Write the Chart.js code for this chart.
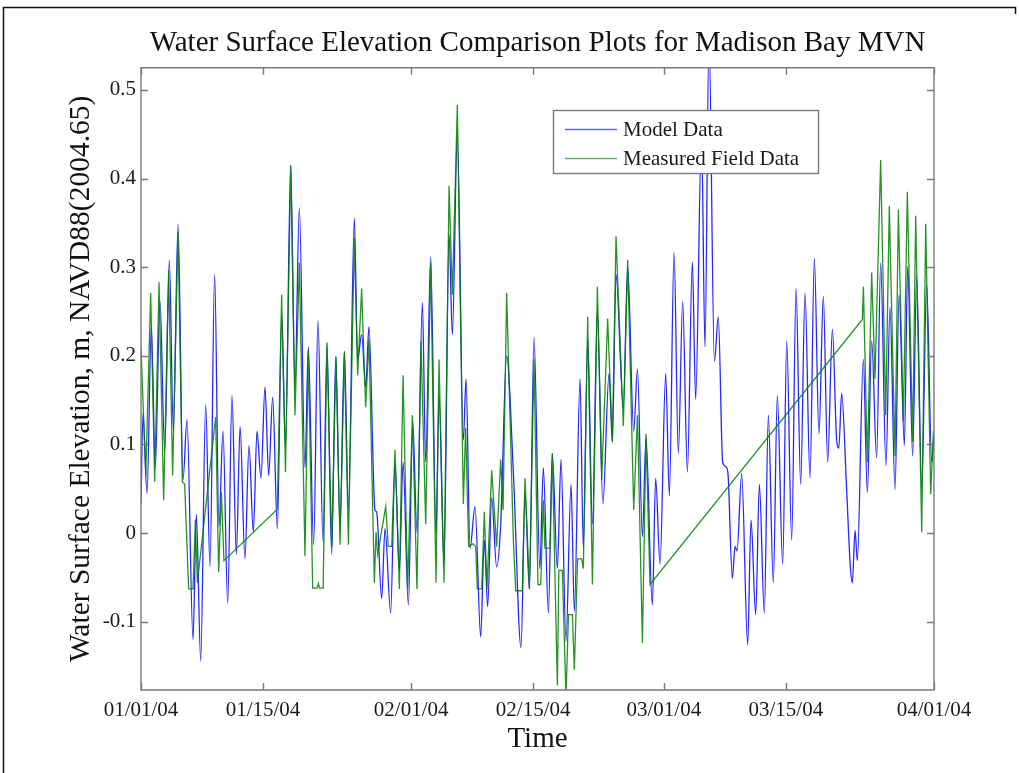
<!DOCTYPE html>
<html>
<head>
<meta charset="utf-8">
<title>Water Surface Elevation Comparison Plots for Madison Bay MVN</title>
<script src="https://cdn.jsdelivr.net/npm/chart.js@4/dist/chart.umd.min.js"></script>
<style>
  html, body { margin: 0; padding: 0; background: #fff; }
  #wrap { position: relative; width: 1019px; height: 773px; }
  canvas { display: block; }
</style>
</head>
<body>
<div id="wrap"><canvas id="chart" width="1019" height="773"></canvas></div>
<script>
// Time axis: days since 01/01/04
const tickDays = [0, 14, 31, 45, 60, 74, 91];
const tickLabels = ['01/01/04', '01/15/04', '02/01/04', '02/15/04', '03/01/04', '03/15/04', '04/01/04'];
const levelTicks = [-0.1, 0, 0.1, 0.2, 0.3, 0.4, 0.5];

// Model Data (day, water surface elevation in m)
const modelDays = [
  0.0, 0.23, 0.69, 1.19, 1.64, 2.18, 2.72, 3.25, 3.71, 4.25, 4.82, 5.28, 5.97, 6.35, 6.85, 7.42, 7.92, 8.45, 8.95, 9.41,
  9.95, 10.44, 10.94, 11.37, 11.93, 12.39, 12.89, 13.31, 13.77, 14.23, 14.65, 15.11, 15.65, 16.14, 16.58, 17.18, 17.67, 18.17, 18.82, 19.2,
  19.81, 20.31, 20.89, 21.34, 21.88, 22.35, 22.84, 23.34, 23.8, 24.48, 24.86, 25.32, 25.78, 26.16, 26.85, 27.04, 27.62, 28.0, 28.65, 29.15,
  29.65, 30.07, 30.68, 31.18, 31.67, 32.29, 32.67, 33.24, 33.85, 34.2, 34.77, 35.35, 35.73, 36.3, 36.99, 37.3, 37.76, 38.33, 38.98, 39.4,
  39.78, 40.24, 40.81, 41.27, 41.96, 42.73, 43.61, 44.07, 44.57, 45.1, 45.77, 46.17, 46.75, 47.2, 47.78, 48.2, 48.77, 49.35, 49.73, 50.38,
  50.76, 51.26, 51.8, 52.37, 53.0, 53.71, 54.09, 54.51, 55.35, 55.85, 56.54, 56.97, 57.54, 57.95, 58.68, 59.06, 59.56, 60.21, 60.63, 61.17,
  61.66, 62.16, 62.7, 63.27, 63.65, 64.32, 64.72, 65.18, 65.8, 66.25, 66.75, 67.1, 67.35, 67.86, 68.17, 68.4, 68.93, 69.62, 70.0, 70.54,
  70.96, 71.53, 71.99, 72.56, 73.02, 73.64, 74.1, 74.67, 75.17, 75.7, 76.2, 76.77, 77.27, 77.8, 78.3, 78.8, 79.34, 79.83, 80.08, 80.4,
  80.95, 81.38, 81.63, 81.94, 82.2, 82.89, 83.35, 83.85, 84.42, 84.88, 85.49, 85.95, 86.53, 86.99, 87.6, 87.98, 88.55, 89.01, 89.59, 90.16,
  90.74, 91.0
];
const modelLevels = [
  0.033, 0.135, 0.045, 0.233, 0.074, 0.262, 0.092, 0.308, 0.117, 0.349, 0.06, 0.128, -0.12, 0.021, -0.144, 0.145, -0.038, 0.292, 0.008, 0.115,
  -0.079, 0.155, -0.024, 0.12, -0.029, 0.099, 0.001, 0.115, 0.062, 0.165, 0.065, 0.153, 0.005, 0.245, 0.1, 0.415, 0.165, 0.367, 0.074, 0.21,
  -0.013, 0.24, -0.01, 0.212, -0.024, 0.199, 0.005, 0.205, 0.028, 0.355, 0.196, 0.224, 0.165, 0.233, 0.026, 0.024, -0.074, 0.005, -0.09, 0.08,
  -0.042, 0.08, -0.081, 0.126, 0.001, 0.26, 0.08, 0.312, 0.0, 0.155, -0.035, 0.337, 0.224, 0.45, 0.105, 0.174, -0.017, 0.03, -0.117, -0.008,
  -0.083, 0.04, -0.038, 0.008, 0.2, 0.069, -0.129, 0.046, -0.063, 0.221, -0.04, 0.074, -0.09, 0.09, -0.04, 0.083, -0.122, 0.055, -0.088, 0.174,
  -0.017, 0.219, 0.01, 0.251, 0.033, 0.18, 0.103, 0.292, 0.142, 0.301, 0.115, 0.185, -0.004, 0.108, -0.081, 0.062, -0.035, 0.18, 0.042, 0.317,
  0.09, 0.261, 0.069, 0.306, 0.151, 0.45, 0.21, 0.56, 0.194, 0.244, 0.08, 0.075, 0.068, -0.051, -0.015, -0.02, 0.067, -0.126, 0.015, -0.092,
  0.055, -0.09, 0.133, -0.056, 0.155, -0.035, 0.217, -0.008, 0.276, 0.055, 0.271, 0.062, 0.31, 0.112, 0.267, 0.08, 0.23, 0.105, 0.096, 0.158,
  0.055, -0.035, -0.056, 0.003, -0.031, 0.196, 0.046, 0.217, 0.085, 0.305, 0.076, 0.255, 0.049, 0.269, 0.099, 0.301, 0.087, 0.29, 0.051, 0.28,
  0.08, 0.112
];

// Measured Field Data (day, water surface elevation in m); gaps are bridged by straight lines
const fieldDays = [
  0.0, 0.55, 1.11, 1.57, 2.07, 2.6, 3.17, 3.63, 4.25, 4.74, 5.01, 5.47, 5.97, 6.24, 6.47, 8.57, 8.91, 9.22, 9.52, 15.64,
  16.14, 16.58, 17.18, 17.67, 18.17, 18.82, 19.2, 19.7, 20.2, 20.35, 20.5, 20.9, 21.34, 21.88, 22.38, 22.84, 23.34, 23.8, 24.48, 24.86,
  25.32, 25.78, 26.16, 26.78, 26.97, 27.16, 28.08, 28.38, 28.77, 29.15, 29.65, 30.07, 30.6, 31.14, 31.67, 32.13, 32.67, 33.24, 33.85, 34.2,
  34.77, 35.35, 35.73, 36.3, 36.99, 37.25, 37.6, 38.1, 38.4, 38.6, 39.1, 39.4, 39.7, 40.24, 40.81, 41.27, 41.55, 41.96, 42.73, 43.0,
  43.76, 44.07, 44.57, 45.1, 45.55, 45.87, 46.17, 46.35, 46.94, 47.2, 47.78, 47.95, 48.35, 48.77, 49.05, 49.5, 49.73, 50.1, 50.57, 50.76,
  51.26, 51.8, 52.37, 52.87, 53.55, 54.09, 54.51, 55.35, 55.85, 56.54, 56.97, 57.54, 57.95, 58.41, 82.78, 82.9, 83.35, 83.85, 84.23, 84.88,
  85.46, 85.87, 86.53, 86.91, 87.48, 87.94, 88.55, 88.9, 89.59, 90.05, 90.62, 90.93
];
const fieldLevels = [
  0.21, 0.065, 0.271, 0.058, 0.283, 0.037, 0.296, 0.065, 0.34, 0.058, 0.055, -0.063, -0.063, 0.015, -0.056, 0.131, -0.044, 0.046, -0.031, 0.027,
  0.269, 0.069, 0.415, 0.133, 0.305, -0.026, 0.205, -0.062, -0.062, -0.057, -0.062, -0.062, 0.215, -0.015, 0.199, -0.013, 0.205, -0.013, 0.333, 0.178,
  0.276, 0.142, 0.219, -0.056, 0.001, -0.024, 0.03, -0.015, -0.015, 0.094, -0.063, 0.178, -0.063, 0.133, -0.063, 0.217, 0.01, 0.305, -0.056, 0.196,
  -0.056, 0.392, 0.269, 0.483, 0.033, 0.119, -0.015, -0.012, -0.015, -0.063, -0.063, 0.024, -0.063, 0.071, -0.015, 0.083, 0.026, 0.271, -0.008, -0.065,
  -0.065, 0.062, -0.063, 0.196, -0.058, -0.058, 0.037, -0.017, -0.017, 0.09, -0.172, -0.042, -0.042, -0.185, -0.092, -0.092, -0.154, -0.029, -0.029, -0.04,
  0.244, -0.058, 0.278, 0.06, 0.242, 0.103, 0.335, 0.121, 0.308, 0.026, 0.133, -0.124, 0.112, -0.058, 0.241, 0.278, 0.08, 0.294, 0.174, 0.421,
  0.133, 0.369, 0.087, 0.365, 0.126, 0.385, 0.103, 0.358, 0.001, 0.349, 0.044, 0.115
];

const serif = '"Liberation Serif", "Times New Roman", serif';
const axisGrey = '#7a7a7a';

function toPoints(xs, ys) {
  return xs.map((x, i) => ({ x: x, y: ys[i] }));
}

// Outer frame of the figure
const figureFrame = {
  id: 'figureFrame',
  beforeDraw(chart) {
    const ctx = chart.ctx;
    ctx.save();
    ctx.fillStyle = '#fff';
    ctx.fillRect(0, 0, chart.width, chart.height);
    ctx.strokeStyle = '#111';
    ctx.lineWidth = 1.5;
    ctx.beginPath();
    ctx.moveTo(3.5, chart.height);
    ctx.lineTo(3.5, 7.5);
    ctx.lineTo(1015.5, 7.5);
    ctx.lineTo(1015.5, 14);
    ctx.stroke();
    ctx.restore();
  }
};

// Boxed axes with inward tick marks on all four sides
const axesBox = {
  id: 'axesBox',
  afterDatasetsDraw(chart) {
    const { ctx, chartArea: a, scales } = chart;
    const tl = 7;
    ctx.save();
    ctx.strokeStyle = axisGrey;
    ctx.lineWidth = 1.4;
    ctx.beginPath();
    ctx.rect(a.left, a.top, a.right - a.left, a.bottom - a.top);
    for (const t of scales.x.ticks) {
      const px = Math.round(scales.x.getPixelForValue(t.value)) + 0.5;
      ctx.moveTo(px, a.bottom); ctx.lineTo(px, a.bottom - tl);
      ctx.moveTo(px, a.top); ctx.lineTo(px, a.top + tl);
    }
    for (const t of scales.y.ticks) {
      const py = Math.round(scales.y.getPixelForValue(t.value)) + 0.5;
      ctx.moveTo(a.left, py); ctx.lineTo(a.left + tl, py);
      ctx.moveTo(a.right, py); ctx.lineTo(a.right - tl, py);
    }
    ctx.stroke();
    ctx.restore();
  }
};

// Legend box inside the plot, drawn from the datasets
const boxLegend = {
  id: 'boxLegend',
  afterDraw(chart) {
    const ctx = chart.ctx;
    const x0 = 553.5, y0 = 110.5, w = 265, h = 63;
    ctx.save();
    ctx.fillStyle = '#fff';
    ctx.fillRect(x0, y0, w, h);
    ctx.strokeStyle = axisGrey;
    ctx.lineWidth = 1.4;
    ctx.strokeRect(x0, y0, w, h);
    ctx.font = '21px ' + serif;
    ctx.textBaseline = 'middle';
    ctx.textAlign = 'left';
    const rows = [129, 158];
    chart.data.datasets.forEach((ds, i) => {
      const y = rows[i] + 0.5;
      ctx.strokeStyle = ds.legendColor;
      ctx.lineWidth = 1.3;
      ctx.beginPath();
      ctx.moveTo(565, y);
      ctx.lineTo(617, y);
      ctx.stroke();
      ctx.fillStyle = '#1a1a1a';
      ctx.fillText(ds.label, 623, rows[i] + 1);
    });
    ctx.restore();
  }
};

new Chart(document.getElementById('chart'), {
  type: 'line',
  data: {
    datasets: [
      {
        label: 'Model Data',
        data: toPoints(modelDays, modelLevels),
        borderColor: 'rgba(0, 0, 255, 0.85)',
        legendColor: 'rgba(80, 80, 255, 0.9)',
        borderWidth: 1.3,
        pointRadius: 0,
        cubicInterpolationMode: 'monotone',
        order: 2
      },
      {
        label: 'Measured Field Data',
        data: toPoints(fieldDays, fieldLevels),
        borderColor: 'rgba(0, 128, 0, 0.85)',
        legendColor: 'rgba(90, 170, 90, 0.9)',
        borderWidth: 1.3,
        pointRadius: 0,
        tension: 0,
        order: 1
      }
    ]
  },
  options: {
    responsive: false,
    animation: false,
    devicePixelRatio: 1,
    layout: { padding: { left: 64, right: 85, top: 0, bottom: 0 } },
    plugins: {
      legend: { display: false },
      tooltip: { enabled: false },
      title: {
        display: true,
        fullSize: false,
        text: 'Water Surface Elevation Comparison Plots for Madison Bay MVN',
        color: '#111',
        font: { family: serif, size: 29, weight: 'normal' },
        padding: { top: 26, bottom: 7 }
      }
    },
    scales: {
      x: {
        type: 'linear',
        min: 0,
        max: 91,
        grid: { display: false, drawTicks: false },
        border: { display: false },
        afterBuildTicks(scale) {
          scale.ticks = tickDays.map(v => ({ value: v }));
        },
        afterFit(scale) { scale.height = 83; },
        ticks: {
          autoSkip: false,
          maxRotation: 0,
          padding: 8,
          color: '#1a1a1a',
          font: { family: serif, size: 21 },
          callback(value) {
            const i = tickDays.indexOf(value);
            return i >= 0 ? tickLabels[i] : '';
          }
        },
        title: {
          display: true,
          text: 'Time',
          color: '#111',
          font: { family: serif, size: 29 },
          padding: { top: 0, bottom: 16 }
        }
      },
      y: {
        type: 'linear',
        min: -0.177,
        max: 0.525,
        grid: { display: false, drawTicks: false },
        border: { display: false },
        afterBuildTicks(scale) {
          scale.ticks = levelTicks.map(v => ({ value: v }));
        },
        afterFit(scale) { scale.width = 77; },
        ticks: {
          autoSkip: false,
          padding: 5,
          color: '#1a1a1a',
          font: { family: serif, size: 21 },
          callback(value) {
            return String(Math.round(value * 10) / 10);
          }
        },
        title: {
          display: true,
          text: 'Water Surface Elevation, m, NAVD88(2004.65)',
          color: '#111',
          font: { family: serif, size: 29.5 },
          padding: { top: 0, bottom: 0 }
        }
      }
    }
  },
  plugins: [figureFrame, axesBox, boxLegend]
});
</script>
</body>
</html>
